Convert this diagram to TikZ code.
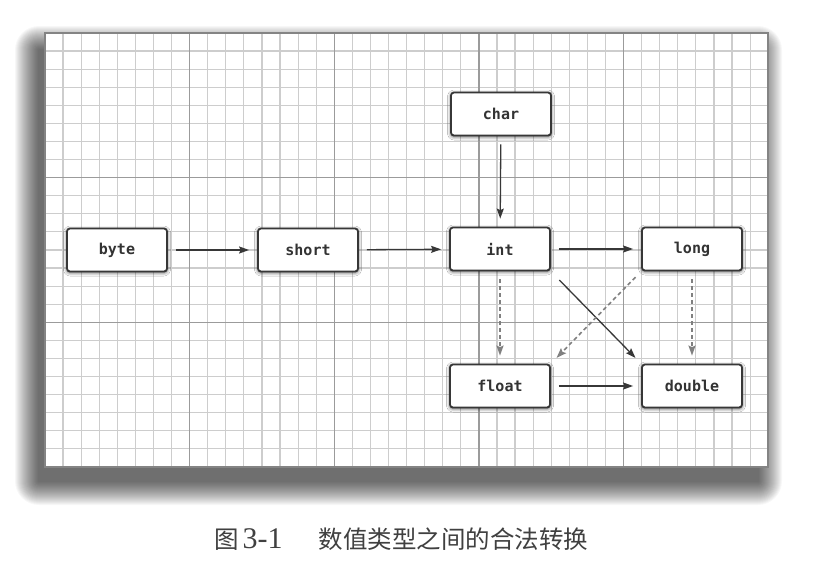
\documentclass[tikz,border=0pt]{standalone}
\usepackage{fontspec}
\usepackage{tikz}
\usetikzlibrary{arrows.meta}
\usetikzlibrary{shadows,shadows.blur}
\newfontfamily\codefont{DejaVu Sans Mono}
\newfontfamily\cjk{Noto Sans CJK SC}
\newfontfamily\capfont{Liberation Serif}
\definecolor{minorgrid}{RGB}{205,205,205}
\definecolor{majorgrid}{RGB}{155,155,155}
\definecolor{boxline}{RGB}{55,55,55}
\definecolor{dashgray}{RGB}{128,128,128}

\begin{document}
\begin{tikzpicture}[x=1pt,y=-1pt,
  typebox/.style={draw=boxline, line width=1.8pt, fill=white, rounded corners=3pt,
    minimum width=100pt, minimum height=43pt, inner sep=0pt, text=black!80,
    font=\codefont\bfseries\fontsize{15}{15}\selectfont,
    blur shadow={shadow xshift=0pt, shadow yshift=-1pt, shadow blur radius=3.5pt, shadow opacity=75}},
  cvt/.style={line width=1.3pt, draw=boxline,
    -{Stealth[length=10pt,width=7pt,inset=1.5pt]}, shorten <=8pt, shorten >=8pt},
  lossy/.style={cvt, draw=dashgray, line width=1.6pt, dash pattern=on 4pt off 3pt}]

   \fill[white] (0,0) rectangle (819,576);
   \useasboundingbox (0,0) rectangle (819,576);

   % 底板阴影
   \foreach \r in {1,...,24}
     \fill[black, opacity=0.03, rounded corners=\r pt]
       ({39-\r},{50-\r}) rectangle ({758+\r},{481+\r});

   % 方格纸底板
   \fill[white] (45,33) rectangle (768.2,466.9);
   \foreach \i in {0,...,40}
     \draw[minorgrid, line width=1.2pt] ({45+\i*18.08},33) -- ({45+\i*18.08},466.9);
   \foreach \j in {0,...,24}
     \draw[minorgrid, line width=1.2pt] (45,{33+\j*18.08}) -- (768.2,{33+\j*18.08});
   \foreach \i in {8,16,...,32}
     \draw[majorgrid, line width=1.2pt] ({45+\i*18.08},33) -- ({45+\i*18.08},466.9);
   \foreach \j in {8,16}
     \draw[majorgrid, line width=1.2pt] (45,{33+\j*18.08}) -- (768.2,{33+\j*18.08});
   \draw[majorgrid!85!black, line width=1.5pt] (45,33) rectangle (768.2,466.9);

   % 数值类型
   \node[typebox] (byte) at (117,250) {byte};
   \node[typebox] (short) at (308,250) {short};
   \node[typebox] (int) at (500,249) {int};
   \node[typebox] (long) at (692,249) {long};
   \node[typebox] (char) at (501,114) {char};
   \node[typebox] (float) at (500,386) {float};
   \node[typebox] (double) at (692,386) {double};

   % 无损转换
   \draw[cvt] (byte) -- (short);
   \draw[cvt] (short) -- (int);
   \draw[cvt] (int) -- (long);
   \draw[cvt] (char) -- (int);
   \draw[cvt] (float) -- (double);
   \draw[cvt, shorten <=12pt] (int.south east) -- (double.north west);

   % 可能丢失精度的转换
   \draw[lossy] (int) -- (float);
   \draw[lossy] (long) -- (double);
   \draw[lossy] (long.south west) -- (float.north east);

   % 图题
   \node[anchor=base west, inner sep=0pt, text=black!75] (caption) at (214,548)
     {\cjk\fontsize{24.5}{24.5}\selectfont 图\hspace{4pt}\capfont\fontsize{30}{30}\selectfont 3-1\hspace{36pt}\cjk\fontsize{24.5}{24.5}\selectfont 数值类型之间的合法转换};

\end{tikzpicture}
\end{document}
